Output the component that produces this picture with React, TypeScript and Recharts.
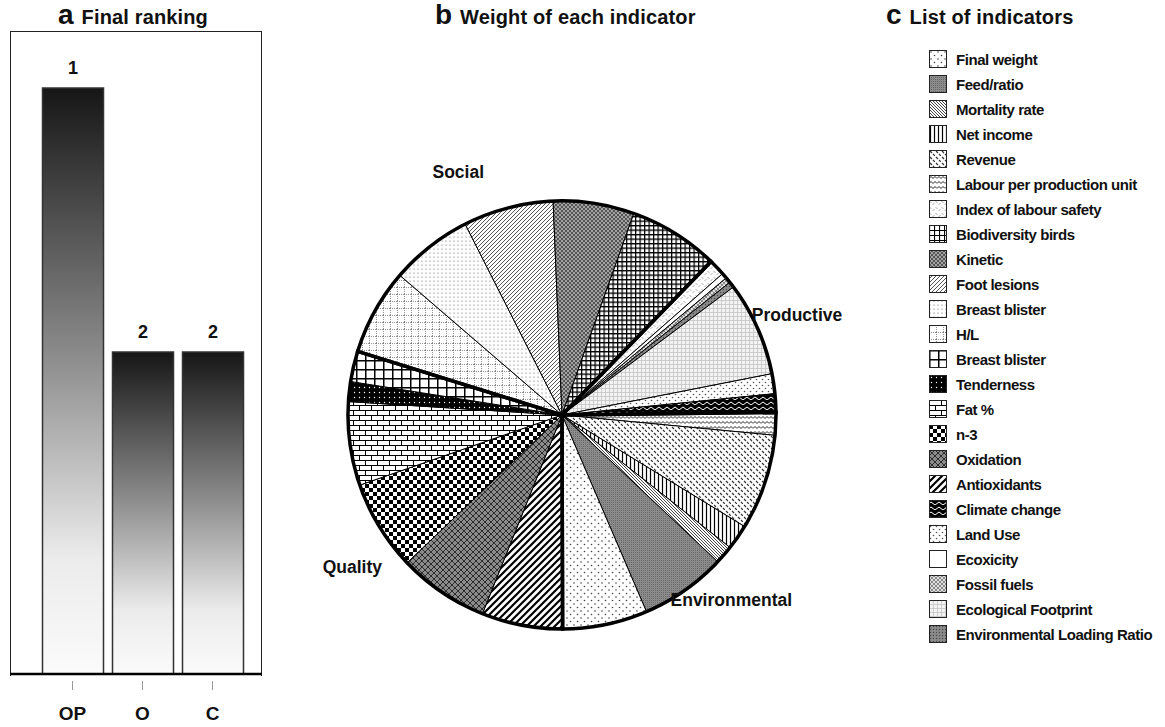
import React from "react";
import { Bar, BarChart, Cell, LabelList, Pie, PieChart, XAxis, YAxis } from "recharts";

// panel a
const systems = ["OP", "O", "C"];
const scores = [0.91, 0.5, 0.5];
const ranks = ["1", "2", "2"];

// panel b, clockwise starting at H/L (weights in %)
const sliceNames = [
  "H/L", "Breast blister", "Foot lesions", "Kinetic", "Biodiversity birds",
  "Index of labour safety", "Ecoxicity", "Fossil fuels", "Environmental Loading Ratio",
  "Ecological Footprint", "Land Use", "Climate change",
  "Labour per production unit", "Revenue", "Net income", "Mortality rate", "Feed/ratio", "Final weight",
  "Antioxidants", "Oxidation", "n-3", "Fat %", "Tenderness", "Breast blister (grid)",
];
const sliceWeights = [
  6.5, 6.2, 6.8, 6.1, 6.8,
  1.25, 0.42, 0.42, 0.44,
  7.1, 1.5, 1.4,
  1.7, 7.2, 1.9, 1.4, 6.5, 6.4,
  6.1, 6.8, 6.8, 6.3, 1.5, 2.3,
];
const sliceGroups = [
  "Social", "Social", "Social", "Social", "Social",
  "Productive", "Productive", "Productive", "Productive",
  "Productive", "Productive", "Productive",
  "Environmental", "Environmental", "Environmental", "Environmental", "Environmental", "Environmental",
  "Quality", "Quality", "Quality", "Quality", "Quality", "Quality",
];
const groupNames = ["Social", "Productive", "Environmental", "Quality"];
const groupLabelBearings = [-22.5, 68.5, 137.5, 232.5];

// panel c
const indicatorNames = [
  "Final weight", "Feed/ratio", "Mortality rate", "Net income", "Revenue",
  "Labour per production unit", "Index of labour safety", "Biodiversity birds", "Kinetic",
  "Foot lesions", "Breast blister", "H/L", "Breast blister", "Tenderness", "Fat %", "n-3",
  "Oxidation", "Antioxidants", "Climate change", "Land Use", "Ecoxicity", "Fossil fuels",
  "Ecological Footprint", "Environmental Loading Ratio",
];

// fill patterns (styles, parallel to the lists above)
const slicePatterns = [
  "pHL", "pBreastDots", "pFoot", "pKinetic", "pBio",
  "pSafety", "pEcotox", "pFossil", "pELR",
  "pEcoFoot", "pLand", "pClimate",
  "pLabour", "pRevenue", "pNet", "pMort", "pFeed", "pFinal",
  "pAntiox", "pOx", "pN3", "pFat", "pTender", "pBreastGrid",
];
const legendPatterns = [
  "pFinal", "pFeed", "pMort", "pNet", "pRevenue", "pLabour", "pSafety", "pBioBig", "pKinetic",
  "pFoot", "pBreastDots", "pHL", "pBreastGrid", "pTender", "pFat", "pN3", "pOx", "pAntiox",
  "pClimate", "pLand", "pEcotox", "pFossil", "pEcoFoot", "pELR",
];

const barData = systems.map((s, i) => ({ name: s, score: scores[i], rank: ranks[i] }));
const pieData = sliceNames.map((n, i) => ({ name: n, value: sliceWeights[i], group: sliceGroups[i] }));

// merge consecutive slices of the same group -> thick outline sectors
const groupRuns: { name: string; value: number }[] = [];
pieData.forEach((d) => {
  const last = groupRuns[groupRuns.length - 1];
  if (last && last.name === d.group) last.value += d.value;
  else groupRuns.push({ name: d.group, value: d.value });
});

const FONT = "Arial, 'Liberation Sans', Helvetica, sans-serif";
const PIE_LEFT = 257;
const CX = 300;
const CY = 410;
const R = 214;
const START = 162.7;

function Pat({ id, w, h, bg = "#fff", children }: { id: string; w: number; h: number; bg?: string; children?: React.ReactNode }) {
  return (
    <pattern id={id} width={w} height={h} patternUnits="userSpaceOnUse">
      <rect width={w} height={h} fill={bg} />
      {children}
    </pattern>
  );
}

function Defs() {
  return (
    <svg width="0" height="0" style={{ position: "absolute" }}>
      <defs>
        <linearGradient id="rankGrad" x1="0" y1="0" x2="0" y2="1">
          <stop offset="0" stopColor="#161616" />
          <stop offset="0.45" stopColor="#8a8a8a" />
          <stop offset="0.8" stopColor="#ebebeb" />
          <stop offset="1" stopColor="#fbfbfb" />
        </linearGradient>
        <Pat id="pKinetic" w={4} h={4} bg="#555">
          <circle cx={1} cy={1} r={0.9} fill="#c8c8c8" />
          <circle cx={3} cy={3} r={0.9} fill="#c8c8c8" />
        </Pat>
        <Pat id="pBio" w={4.5} h={4.5}>
          <path d="M0 0.6H4.5 M0.6 0V4.5" stroke="#000" strokeWidth={1.3} />
        </Pat>
        <Pat id="pBioBig" w={5} h={5}>
          <path d="M0 0.5H5 M0.5 0V5" stroke="#000" strokeWidth={1.2} />
        </Pat>
        <Pat id="pSafety" w={6} h={6}>
          <path d="M1 1.5l1 1 M4 4.5l1-1" stroke="#444" strokeWidth={0.9} />
        </Pat>
        <Pat id="pEcotox" w={4} h={4} />
        <Pat id="pFossil" w={4} h={4} bg="#e0e0e0">
          <rect width={2} height={2} fill="#888" />
          <rect x={2} y={2} width={2} height={2} fill="#888" />
        </Pat>
        <Pat id="pELR" w={3} h={3} bg="#8a8a8a">
          <circle cx={1.5} cy={1.5} r={0.7} fill="#4a4a4a" />
        </Pat>
        <Pat id="pEcoFoot" w={4} h={4} bg="#f3f3f3">
          <path d="M0 0.5H4 M0.5 0V4" stroke="#c4c4c4" strokeWidth={0.8} />
        </Pat>
        <Pat id="pLand" w={6} h={6}>
          <circle cx={1.5} cy={1.5} r={0.8} fill="#555" />
          <circle cx={4.5} cy={4.5} r={0.8} fill="#555" />
        </Pat>
        <Pat id="pClimate" w={8} h={5} bg="#000">
          <path d="M0 3.5Q2 0.5 4 3.5T8 3.5" stroke="#fff" strokeWidth={1} fill="none" />
        </Pat>
        <Pat id="pLabour" w={8} h={5}>
          <path d="M0 3.5L2 1.5L4 3.5L6 1.5L8 3.5" stroke="#222" strokeWidth={1} fill="none" />
        </Pat>
        <Pat id="pRevenue" w={6} h={6}>
          <path d="M1 1L3 3 M4 4L6 6" stroke="#333" strokeWidth={1.2} />
        </Pat>
        <Pat id="pNet" w={4} h={4}>
          <path d="M1.5 0V4" stroke="#000" strokeWidth={1.2} />
        </Pat>
        <Pat id="pMort" w={3} h={3}>
          <path d="M0 0L3 3 M-1 2L1 4 M2 -1L4 1" stroke="#333" strokeWidth={0.9} />
        </Pat>
        <Pat id="pFeed" w={2} h={2} bg="#8c8c8c">
          <rect width={1} height={1} fill="#666" />
        </Pat>
        <Pat id="pFinal" w={7} h={7}>
          <circle cx={2} cy={2} r={0.8} fill="#444" />
          <circle cx={5.5} cy={5.5} r={0.8} fill="#444" />
        </Pat>
        <Pat id="pAntiox" w={7} h={7}>
          <path d="M0 7L7 0 M-2 2L2 -2 M5 9L9 5" stroke="#000" strokeWidth={2.2} />
        </Pat>
        <Pat id="pOx" w={6} h={6} bg="#8a8a8a">
          <path d="M0 0L6 6 M6 0L0 6" stroke="#222" strokeWidth={0.9} />
        </Pat>
        <Pat id="pN3" w={8} h={8}>
          <rect width={4} height={4} fill="#000" />
          <rect x={4} y={4} width={4} height={4} fill="#000" />
        </Pat>
        <Pat id="pFat" w={12} h={10}>
          <path d="M0 0.5H12 M0 5.5H12 M0.5 0.5V5.5 M6.5 5.5V10.5" stroke="#000" strokeWidth={1} />
        </Pat>
        <Pat id="pTender" w={5} h={5} bg="#000">
          <circle cx={2.5} cy={2.5} r={0.7} fill="#fff" />
        </Pat>
        <Pat id="pBreastGrid" w={9} h={9}>
          <path d="M0 0.75H9 M0.75 0V9" stroke="#000" strokeWidth={1.5} />
        </Pat>
        <Pat id="pHL" w={7} h={7}>
          <path d="M0 0.5H7 M0.5 0V7" stroke="#777" strokeWidth={0.8} strokeDasharray="1 1" />
        </Pat>
        <Pat id="pBreastDots" w={4} h={4}>
          <circle cx={1} cy={1} r={0.55} fill="#555" />
        </Pat>
        <Pat id="pFoot" w={4} h={4}>
          <path d="M0 4L4 0 M-1 1L1 -1 M3 5L5 3" stroke="#555" strokeWidth={1} />
        </Pat>
      </defs>
    </svg>
  );
}

function SystemTick({ x, y, payload }: { x?: number; y?: number; payload?: { value: string } }) {
  const yy = y ?? 0;
  return (
    <g>
      <line x1={x} x2={x} y1={yy - 1} y2={yy + 8} stroke="#999" strokeWidth={1} />
      <text x={x} y={yy + 38} textAnchor="middle" fontFamily={FONT} fontWeight={700} fontSize={19} fill="#111">
        {payload?.value}
      </text>
    </g>
  );
}

function Title({ letter, text, left }: { letter: string; text: string; left: number }) {
  return (
    <div style={{ position: "absolute", left, top: 0, fontFamily: FONT, fontWeight: 700, color: "#111", whiteSpace: "nowrap", lineHeight: "30px" }}>
      <span style={{ fontSize: 28 }}>{letter}</span>
      <span style={{ fontSize: 20, marginLeft: 8, letterSpacing: 0.15 }}>{text}</span>
    </div>
  );
}

export default function App() {
  const labelR = 258;
  return (
    <div style={{ position: "absolute", left: 0, top: 0, width: 1165, height: 727, background: "#fff", overflow: "hidden" }}>
      <Defs />

      <Title letter="a" text="Final ranking" left={58} />
      <Title letter="b" text="Weight of each indicator" left={435} />
      <Title letter="c" text="List of indicators" left={886} />

      {/* a: panel frame */}
      <div style={{ position: "absolute", left: 10, top: 31, width: 250, height: 644, borderTop: "1.2px solid #222", borderLeft: "1.2px solid #222", borderRight: "1.2px solid #222" }} />
      <div style={{ position: "absolute", left: 0, top: 0 }}>
        <BarChart width={272} height={727} data={barData} margin={{ top: 30, right: 10, bottom: 3, left: 10 }} barSize={61}>
          <XAxis dataKey="name" height={50} tickLine={false} tick={<SystemTick />} axisLine={{ stroke: "#000", strokeWidth: 2.5 }} padding={{ left: 27.5, right: 14.5 }} />
          <YAxis width={0} domain={[0, 1]} hide />
          <Bar dataKey="score" fill="url(#rankGrad)" stroke="#333" strokeWidth={1.5} isAnimationActive={false}>
            <LabelList dataKey="rank" position="top" offset={14} fill="#111" fontFamily={FONT} fontWeight={700} fontSize={18} />
          </Bar>
        </BarChart>
      </div>

      {/* b */}
      <div style={{ position: "absolute", left: PIE_LEFT, top: 0 }}>
        <PieChart width={600} height={727}>
          <Pie data={pieData} dataKey="value" nameKey="name" cx={CX} cy={CY} outerRadius={R} startAngle={START} endAngle={START - 360} stroke="#000" strokeWidth={1} isAnimationActive={false}>
            {pieData.map((d, i) => (
              <Cell key={i} fill={`url(#${slicePatterns[i]})`} />
            ))}
          </Pie>
          <Pie data={groupRuns} dataKey="value" cx={CX} cy={CY} outerRadius={R} startAngle={START} endAngle={START - 360} fill="none" stroke="#000" strokeWidth={3.5} isAnimationActive={false} />
        </PieChart>
      </div>
      {groupNames.map((g, i) => {
        const a = (groupLabelBearings[i] * Math.PI) / 180;
        const x = PIE_LEFT + CX + labelR * Math.sin(a);
        const y = CY - labelR * Math.cos(a);
        return (
          <div key={g} style={{ position: "absolute", left: x, top: y, transform: "translate(-50%, -50%)", fontFamily: FONT, fontWeight: 700, fontSize: 17.5, color: "#111", whiteSpace: "nowrap" }}>
            {g}
          </div>
        );
      })}

      {/* c */}
      {indicatorNames.map((n, i) => (
        <div key={i} style={{ position: "absolute", left: 929, top: 59 + i * 25 - 9, height: 18, display: "flex", alignItems: "center", whiteSpace: "nowrap" }}>
          <svg width={18} height={18} style={{ flexShrink: 0 }}>
            <rect x={0.5} y={0.5} width={17} height={17} fill={`url(#${legendPatterns[i]})`} stroke="#222" strokeWidth={1} />
          </svg>
          <span style={{ marginLeft: 9, fontFamily: FONT, fontWeight: 700, fontSize: 15, letterSpacing: -0.45, color: "#111" }}>{n}</span>
        </div>
      ))}
    </div>
  );
}
